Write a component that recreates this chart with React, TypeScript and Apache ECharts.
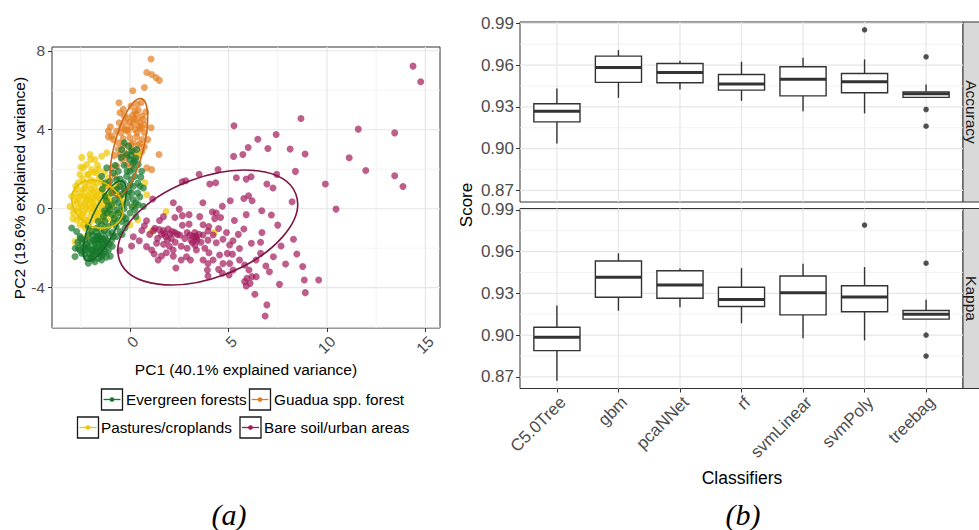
import React, { useEffect, useRef } from 'react';
import * as echarts from 'echarts';

// ---------- Panel (a): PCA scores ----------
const classNames = ['Evergreen forests', 'Guadua spp. forest', 'Pastures/croplands', 'Bare soil/urban areas'];
const classColors = ['#16782a', '#e27d1f', '#f0c800', '#a3195b'];
const ellipseColors = ['#17672a', '#cd6818', '#e4bf00', '#7e1445'];

const evergreenPts = [
  [-0.29, 3.34], [-0.08, 3.17], [0.08, 2.92], [0.34, 3.0], [-0.42, 3.0], [-0.17, 2.75], [0, 2.49], [0.22, 2.41],
  [0.42, 2.24], [0.59, 1.9], [0, 1.9], [-0.17, 1.64], [-0.34, 1.31], [0.05, 1.47], [0.25, 1.64], [0.17, 1.14],
  [0.51, 1.14], [0.68, 1.05], [0.39, 0.8], [0.08, 0.8], [-0.25, 0.88], [-0.51, 0.63], [-0.76, 0.46], [-0.93, 0.2],
  [-1.02, -0.05], [-0.68, -0.05], [-0.42, 0.12], [-0.17, 0.29], [0.17, 0.46], [0.42, 0.2], [0.68, 0.12], [0.25, -0.05],
  [0, -0.22], [-0.34, -0.39], [-0.59, -0.56], [-0.85, -0.73], [-1.1, -0.9], [-1.27, -0.64], [-1.44, -0.81], [-1.69, -0.98],
  [-1.95, -1.15], [-2.12, -1.32], [-2.28, -1.58], [-2.45, -1.75], [-2.62, -2.0], [-2.79, -2.42], [-2.45, -2.25], [-2.2, -2.51],
  [-1.95, -2.42], [-1.69, -2.25], [-1.44, -2.0], [-1.18, -1.75], [-0.93, -1.58], [-0.68, -1.41], [-0.51, -1.15], [-0.25, -0.98],
  [-0.17, -0.73], [-0.42, -0.64], [-2.12, -2.76], [-1.78, -2.68], [-1.44, -2.59], [-1.52, -2.25], [-1.86, -2.08], [-2.12, -1.92],
  [-1.78, -1.58], [-1.52, -1.49], [-1.27, -1.49], [-1.1, -1.24], [-1.44, -1.24], [-1.69, -1.41], [-2.03, -1.66], [-2.28, -2.08],
  [-2.54, -1.41], [-2.71, -1.15], [-2.96, -0.98], [-2.12, -0.9], [-1.61, -0.64], [-1.35, -0.39], [-1.18, -0.22], [-1.1, 0.12],
  [-1.27, 0.63], [-0.93, 0.8], [-0.68, 0.97], [-0.51, 1.14], [-0.68, 1.47], [-0.85, 1.81], [-0.59, 1.9], [-1.18, 2.07],
  [-1.02, 1.39], [-1.27, 1.31], [-1.44, 1.64], [-1.6, -1.7], [-1.8, -1.9], [-1.4, -1.8], [-1.7, -2.0], [-2.0, -2.1],
  [-1.5, -2.1], [-1.3, -1.9], [-1.9, -1.6], [-1.6, -1.4], [-1.2, -1.6], [-1.7, -1.2], [-2.2, -1.8], [-1.55, -1.55],
  [-1.85, -2.3], [-1.35, -2.3], [-2.3, -2.3], [-2.0, -2.5], [-1.6, -2.5], [-1.1, -2.1], [-0.9, -1.9], [-1.0, -2.4],
  [-2.5, -1.5], [-0.3, 1.0], [0.0, 1.2], [0.3, 0.3], [-0.1, 0.6], [0.5, 0.6], [-0.5, 1.5], [0.2, 2.0],
  [-0.3, 2.2], [0.4, 1.3], [-0.6, 0.3], [-0.9, -0.3], [-1.2, 0.4], [-0.7, -0.9], [-0.4, -1.3], [-0.9, -1.2],
  [-0.2, -0.5], [0.3, -0.4], [-1.3, -0.1], [-0.8, 0.9], [-1.4, 1.0], [-0.75, 2.2], [0.05, 2.7], [-0.45, 2.6],
  [0.3, 2.55], [-2.78, -2.0], [-1.75, -1.75], [-2.05, -2.25], [-1.45, -1.65], [-1.25, -2.15],
  [-1.75, -2.15], [-1.45, -2.4], [-1.9, -2.55], [-2.15, -2.0], [-1.35, -1.55], [-1.05, -1.8], [-1.65, -1.55], [-2.35, -1.95],
  [-2.55, -2.1], [-2.65, -1.7], [-1.2, -2.45], [-1.5, -1.95], [-1.9, -1.35], [-1.3, -1.1], [-0.85, -1.4], [-0.6, -0.2],
  [-0.3, 0.0], [0.1, 0.1], [-0.15, 1.9], [0.15, 2.3], [-0.05, 0.9], [0.55, 1.6], [-0.4, 0.75], [-0.8, -0.5],
];

const guaduaPts = [
  [1.07, 7.58], [0.85, 6.9], [1.1, 6.8], [1.32, 6.64], [1.49, 6.5], [0.73, 6.14], [0.14, 5.97], [-0.56, 5.37],
  [-0.34, 5.03], [0.05, 5.2], [0.34, 5.29], [0.56, 5.37], [0.25, 4.95], [0.42, 5.0], [-0.51, 4.86], [-0.12, 4.61],
  [0.14, 4.73], [0.34, 4.53], [0.51, 4.36], [0.68, 4.53], [0.17, 4.36], [0.05, 4.15], [-0.25, 4.36], [-0.42, 4.1],
  [-1.1, 3.93], [-0.93, 3.68], [-0.68, 3.93], [-0.46, 3.85], [-0.25, 4.02], [0.25, 4.02], [0.51, 4.05], [0.73, 3.85],
  [1.07, 4.1], [0.63, 3.51], [0.34, 3.64], [0.0, 3.59], [0.17, 3.34], [0.42, 3.2], [0.73, 3.14], [-1.1, 3.64],
  [-0.85, 3.51], [-0.59, 3.34], [-0.34, 3.2], [1.47, 2.75], [0.85, 2.07], [1.1, 1.98], [-0.42, 2.49], [-0.17, 2.24],
  [0.08, 2.15], [0.34, 2.66], [-0.68, 2.15], [-0.51, 2.75], [-0.25, 2.83], [-0.93, 2.07], [-0.76, 1.64], [-0.59, 1.14],
  [-1.1, 1.14], [0.0, 4.4], [0.3, 4.8], [0.6, 4.7], [-0.1, 3.9], [0.5, 3.3], [0.9, 3.5], [-0.6, 3.0],
  [-0.2, 2.6], [0.2, 2.9], [0.6, 2.9], [-0.8, 2.7], [0.1, 3.0], [-1.0, 4.15], [0.45, 4.2], [0.8, 4.9],
  [-0.3, 4.7], [0.2, 4.55], [-0.15, 4.0], [0.35, 3.85], [0.75, 4.25], [-0.35, 3.55], [0.05, 3.25], [-0.55, 4.35],
  [0.6, 4.1],
];

const pasturePts = [
  [-2.03, 2.75], [-1.78, 2.49], [-1.44, 2.66], [-2.2, 2.24], [-2.37, 2.07], [-1.95, 1.98], [-2.54, 1.73], [-2.12, 1.73],
  [-1.69, 1.81], [-2.62, 1.31], [-2.28, 1.31], [-1.86, 1.39], [-1.44, 1.31], [-1.1, 1.56], [-2.96, 0.63], [-2.79, 0.8],
  [-3.05, 0.12], [-2.88, -0.22], [-2.71, -0.56], [-2.54, -0.81], [-2.28, -0.98], [-1.95, -1.07], [-1.61, -0.98], [-1.27, -0.9],
  [-0.93, -0.64], [-0.76, -0.31], [-0.85, 0.12], [-1.02, 0.46], [-1.27, 0.71], [-1.61, 0.88], [-1.95, 0.97], [-2.37, 0.97],
  [-2.54, 0.63], [-2.71, 0.29], [-2.45, 0.12], [-2.2, 0.46], [-1.86, 0.54], [-1.52, 0.46], [-1.18, 0.29], [-1.44, 0.03],
  [-1.78, 0.03], [-2.12, -0.05], [-2.37, -0.22], [-2.03, -0.39], [-1.69, -0.39], [-1.35, -0.31], [-1.1, -0.22], [-2.12, 0.2],
  [-1.86, 0.2], [-2.32, -0.56], [-2.79, -1.66], [-2.2, -1.41], [-1.18, 2.83], [0.42, 2.75], [0.85, 0.71], [0.17, 0.12],
  [1.1, -1.15], [1.83, -0.14], [4.28, -1.2], [0, -0.81], [0.39, -0.56], [0.76, 1.31], [-2.0, 0.5], [-1.7, 0.7],
  [-2.3, 0.6], [-2.5, 0.3], [-1.6, 0.2], [-1.3, 0.5], [-1.9, -0.2], [-2.2, -0.6], [-1.5, -0.6], [-2.6, 0.0],
  [-1.8, 1.1], [-2.1, 1.2], [-1.4, 1.0], [-2.8, 0.4], [-1.2, -0.5], [-1.0, 0.8], [-2.4, -0.3], [-1.75, -0.15],
  [-2.05, 0.85], [-1.55, 1.55], [-2.4, 1.5], [-1.0, 1.1], [-0.6, 0.7], [-0.5, -0.2], [-0.7, 1.2], [-0.4, 0.5],
  [-2.45, 2.6], [-2.0, 2.5], [-1.65, 2.2], [-2.7, 1.0], [-1.9, 0.35], [-1.45, -0.15], [-2.25, 0.05], [-1.65, 0.55],
  [-2.15, 0.65], [-1.85, 0.8], [-2.45, 0.8], [-2.65, 0.55], [-2.25, 0.3], [-1.95, 0.05], [-1.65, -0.25], [-2.55, -0.45],
  [-2.85, 0.0], [-1.35, 0.2], [-1.15, 0.65], [-1.5, 0.85], [-2.3, 1.05], [-2.0, 1.45], [-1.7, 1.3], [-2.75, 1.15],
  [-2.6, -0.15], [-2.05, -0.7], [-1.8, -0.55], [-1.4, -0.45], [-1.1, 0.0], [-0.95, 0.35], [-2.9, -0.5], [-2.35, -0.8],
  [-1.25, 1.2], [-2.15, 1.75], [-1.85, 1.85], [-2.5, 2.1], [-1.6, 2.0], [-1.3, 1.85],
];

const barePts = [
  [14.37, 7.22], [14.76, 6.43], [8.68, 4.57], [5.28, 4.2], [11.59, 4.03], [13.44, 3.84], [7.42, 3.76], [6.49, 3.52],
  [7.0, 3.05], [6.0, 3.1], [8.13, 3.02], [5.73, 2.75], [5.26, 2.65], [8.89, 2.77], [11.13, 2.58], [8.4, 1.89],
  [11.97, 1.94], [4.47, 1.99], [3.51, 1.75], [7.45, 1.74], [5.4, 1.57], [5.9, 1.5], [6.15, 1.62], [13.44, 1.67],
  [2.83, 1.42], [2.65, 1.37], [4.05, 1.25], [4.35, 1.32], [6.95, 1.25], [7.26, 1.05], [9.92, 1.25], [13.86, 1.13],
  [6.02, 0.66], [5.78, 0.52], [6.2, 0.4], [5.09, 0.4], [8.23, 0.35], [4.69, 0.13], [1.15, 0.49], [10.46, -0.02],
  [6.69, -0.1], [2.5, -0.02], [4.18, -0.17], [4.38, -0.22], [7.18, -0.32], [2.28, -0.44], [2.66, -0.35], [3.54, -0.4],
  [4.6, -0.44], [3.0, -0.78], [7.5, -0.83], [0.84, -0.61], [0.73, -0.86], [2.66, -0.84], [3.71, -0.81], [5.78, -1.03],
  [1.26, -0.99], [1.48, -1.05], [1.69, -1.11], [1.94, -1.03], [2.28, -1.2], [2.02, -1.28], [1.82, -1.42], [2.53, -1.33],
  [2.78, -1.5], [3.04, -1.33], [3.29, -1.21], [3.37, -1.5], [3.17, -1.72], [3.96, -1.13], [3.71, -1.33], [3.96, -1.59],
  [4.22, -1.33], [4.38, -1.72], [4.72, -1.55], [5.23, -1.62], [5.06, -1.84], [4.94, -2.26], [5.56, -2.01], [6.16, -1.75],
  [6.63, -1.7], [7.67, -1.89], [8.3, -1.55], [0.17, -1.42], [0.47, -1.62], [0.08, -1.89], [0.84, -1.92], [1.1, -2.09],
  [1.35, -1.75], [1.23, -2.29], [1.43, -2.6], [1.6, -2.39], [1.85, -2.23], [2.19, -2.09], [2.33, -3.0], [2.87, -2.43],
  [3.07, -2.6], [3.37, -2.09], [3.71, -2.6], [4.01, -2.23], [3.96, -2.77], [4.22, -2.6], [4.55, -2.34], [4.72, -2.77],
  [5.06, -2.77], [5.23, -3.1], [5.56, -2.6], [5.82, -2.85], [6.04, -3.1], [5.94, -3.52], [6.19, -3.44], [6.41, -3.44],
  [6.1, -3.78], [5.82, -3.69], [5.9, -3.91], [3.93, -3.1], [3.96, -3.41], [4.5, -3.07], [4.69, -3.27], [5.03, -3.36],
  [6.63, -2.26], [7.08, -3.19], [7.28, -2.43], [7.59, -3.83], [8.77, -2.93], [8.85, -3.61], [8.9, -4.25], [9.58, -3.61],
  [8.47, -2.29], [6.34, -4.33], [6.95, -4.87], [6.86, -5.43], [-0.51, -2.12], [1.6, -1.3], [1.9, -1.6], [2.1, -1.5],
  [2.3, -1.7], [1.7, -1.8], [2.0, -1.9], [2.4, -1.3], [1.4, -1.5], [3.2, -1.4], [3.4, -1.6], [3.1, -1.6],
  [3.5, -1.3], [3.3, -1.85], [3.6, -1.7], [2.9, -1.2], [2.6, -1.9], [2.2, -2.4], [2.6, -2.6], [1.0, -1.3],
  [0.6, -1.1], [1.2, -1.1], [2.9, -2.0], [3.8, -2.0], [4.0, -0.9], [4.5, -1.0], [4.9, -1.2], [5.3, -0.6],
  [5.5, -1.3], [6.4, -2.6], [6.9, -2.9], [5.2, -2.3], [3.0, -0.3], [2.2, 0.3], [1.7, -0.4], [3.7, 0.3],
  [4.3, -0.5], [5.9, -0.3], [6.7, -1.2], [7.9, -2.8], [1.5, -0.6], [1.75, -1.25], [2.15, -1.15], [3.35, -1.4],
];

// confidence ellipses: [centre x, centre y, semi-major, semi-minor, angle in degrees]
const evergreenEllipse = [-1.28, -0.62, 2.2, 0.67, 65.7];
const guaduaEllipse = [-0.06, 3.11, 2.55, 0.74, 75.6];
const pastureEllipse = [-1.65, 0.23, 1.4, 1.11, -35.5];
const bareEllipse = [3.95, -0.95, 4.78, 2.53, 20.8];

const pc1Ticks = [0, 5, 10, 15];
const pc2Ticks = [-4, 0, 4, 8];
const pc1Minor = [-2.5, 2.5, 7.5, 12.5];
const pc2Minor = [-6, -2, 2, 6];

// ---------- Panel (b): classifier scores ----------
const classifiers = ['C5.0Tree', 'gbm', 'pcaNNet', 'rf', 'svmLinear', 'svmPoly', 'treebag'];
// [lower whisker, Q1, median, Q3, upper whisker]
const accuracyStats = [
  [0.9037, 0.9192, 0.9269, 0.9322, 0.9432],
  [0.9365, 0.9476, 0.9583, 0.9665, 0.9708],
  [0.9425, 0.9473, 0.9547, 0.9612, 0.9631],
  [0.9343, 0.942, 0.9465, 0.9533, 0.9624],
  [0.9269, 0.9379, 0.9499, 0.9588, 0.9653],
  [0.9253, 0.9401, 0.948, 0.954, 0.9641],
  [0.9368, 0.9368, 0.9394, 0.9408, 0.9461],
];
const kappaStats = [
  [0.8672, 0.8888, 0.8984, 0.9056, 0.9212],
  [0.9175, 0.9272, 0.9416, 0.9533, 0.9588],
  [0.92, 0.9265, 0.936, 0.9463, 0.9478],
  [0.9085, 0.9205, 0.9255, 0.9344, 0.9481],
  [0.8977, 0.9145, 0.9305, 0.9425, 0.9512],
  [0.8962, 0.9168, 0.9273, 0.9355, 0.9489],
  [0.9115, 0.9115, 0.915, 0.9177, 0.9254],
];
const accuracyOutliers = [[6, 0.9854], [7, 0.966], [7, 0.9281], [7, 0.9161]];
const kappaOutliers = [[6, 0.9791], [7, 0.9517], [7, 0.9], [7, 0.8849]];
const scoreTicks = [0.87, 0.9, 0.93, 0.96, 0.99];
const scoreMinor = [0.885, 0.915, 0.945, 0.975];
const facetNames = ['Accuracy', 'Kappa'];

const FONT = '"Liberation Sans", Arial, Helvetica, sans-serif';
const SERIF = '"Liberation Serif", "Times New Roman", serif';

function gridLineData(xMajor: number[], xMinor: number[], yMajor: number[], yMinor: number[]) {
  const d: number[][] = [];
  xMinor.forEach((v) => d.push([v, v, 0, 0]));
  yMinor.forEach((v) => d.push([v, v, 1, 0]));
  xMajor.forEach((v) => d.push([v, v, 0, 1]));
  yMajor.forEach((v) => d.push([v, v, 1, 1]));
  return d;
}

const gridLineRender = (params: any, api: any) => {
  const cs = params.coordSys;
  const v = api.value(0);
  const orient = api.value(2);
  const major = api.value(3);
  const p = api.coord([v, v]);
  const style = { stroke: major ? '#e6e6e6' : '#f0f0f0', lineWidth: major ? 1.2 : 0.8 };
  if (orient === 0) {
    return { type: 'line', silent: true, shape: { x1: p[0], y1: cs.y, x2: p[0], y2: cs.y + cs.height }, style };
  }
  return { type: 'line', silent: true, shape: { x1: cs.x, y1: p[1], x2: cs.x + cs.width, y2: p[1] }, style };
};

const ellipseRender = (color: string) => (params: any, api: any) => {
  const c = api.coord([api.value(0), api.value(1)]);
  const s = api.size([api.value(2), api.value(3)]);
  return {
    type: 'ellipse',
    x: c[0],
    y: c[1],
    rotation: (api.value(4) * Math.PI) / 180,
    shape: { cx: 0, cy: 0, rx: s[0], ry: s[1] },
    style: { fill: 'none', stroke: color, lineWidth: 1.6 },
    silent: true,
  };
};

const boxRender = (params: any, api: any) => {
  const x = api.value(0);
  const lo = api.coord([x, api.value(1)]);
  const q1 = api.coord([x, api.value(2)]);
  const md = api.coord([x, api.value(3)]);
  const q3 = api.coord([x, api.value(4)]);
  const hi = api.coord([x, api.value(5)]);
  const half = api.size([0.375, 0])[0];
  const cx = lo[0];
  const st = { stroke: '#333333', lineWidth: 1.4 };
  return {
    type: 'group',
    children: [
      { type: 'line', shape: { x1: cx, y1: hi[1], x2: cx, y2: q3[1] }, style: st },
      { type: 'line', shape: { x1: cx, y1: q1[1], x2: cx, y2: lo[1] }, style: st },
      { type: 'rect', shape: { x: cx - half, y: q3[1], width: 2 * half, height: q1[1] - q3[1] }, style: { fill: '#ffffff', stroke: '#333333', lineWidth: 1.4 } },
      { type: 'line', shape: { x1: cx - half, y1: md[1], x2: cx + half, y2: md[1] }, style: { stroke: '#333333', lineWidth: 3 } },
    ],
  };
};

function textEl(text: string, x: number, y: number, size: number, opts: any = {}) {
  return {
    type: 'text',
    x,
    y,
    rotation: opts.rotation || 0,
    silent: true,
    style: {
      text,
      font: `${opts.style || 'normal'} ${size}px ${opts.family || FONT}`,
      fill: opts.fill || '#000000',
      align: opts.align || 'center',
      verticalAlign: 'middle',
      textAlign: opts.align || 'center',
      textVerticalAlign: 'middle',
    },
  };
}

export default function App() {
  const ref = useRef<HTMLDivElement>(null);

  useEffect(() => {
    document.body.style.margin = '0';
    if (!ref.current) return;
    const chart = echarts.init(ref.current, undefined, { renderer: 'svg' });

    const scatterGrid = { left: 52, top: 47, width: 388, height: 281 };
    const facetGrids = [
      { left: 520, top: 22, width: 443, height: 180 },
      { left: 520, top: 208.5, width: 443, height: 180 },
    ];
    const gridCommon = { show: true, borderColor: '#333333', borderWidth: 1, backgroundColor: '#ffffff', containLabel: false };

    const leftLabel = { color: '#4d4d4d', fontSize: 15.5, fontFamily: FONT };
    const rightLabel = { color: '#4d4d4d', fontSize: 17, fontFamily: FONT };
    const tickStyle = { lineStyle: { color: '#333333', width: 1 }, length: 4, inside: false };
    const noLine = { show: false, onZero: false };

    const scoreMin = 0.8616;
    const scoreMax = 0.991;

    const legendItems = [
      { box: [101.5, 389], text: 126, idx: 0 },
      { box: [249.5, 389], text: 274, idx: 1 },
      { box: [77.5, 417], text: 101, idx: 2 },
      { box: [240, 417], text: 264, idx: 3 },
    ];
    const legendGraphics: any[] = [];
    legendItems.forEach((it) => {
      const [bx, by] = it.box;
      const color = classColors[it.idx];
      legendGraphics.push({ type: 'rect', shape: { x: bx, y: by, width: 21, height: 21 }, style: { fill: '#ffffff', stroke: '#1a1a1a', lineWidth: 1.3 }, silent: true });
      legendGraphics.push({ type: 'line', shape: { x1: bx + 2, y1: by + 10.5, x2: bx + 19, y2: by + 10.5 }, style: { stroke: color, lineWidth: 1.3 }, silent: true });
      legendGraphics.push({ type: 'circle', shape: { cx: bx + 10.5, cy: by + 10.5, r: 2.3 }, style: { fill: color }, silent: true });
      legendGraphics.push(textEl(classNames[it.idx], it.text, by + 10.5, 15.3, { align: 'left' }));
    });

    const stripGraphics: any[] = [];
    facetGrids.forEach((g, i) => {
      stripGraphics.push({ type: 'rect', shape: { x: g.left + g.width, y: g.top, width: 30, height: g.height }, style: { fill: '#d9d9d9', stroke: '#333333', lineWidth: 1 }, silent: true });
      stripGraphics.push(textEl(facetNames[i], 971, g.top + g.height / 2, 15.5, { rotation: -Math.PI / 2, fill: '#1a1a1a' }));
    });

    const option: any = {
      animation: false,
      backgroundColor: '#ffffff',
      grid: [
        { ...gridCommon, ...scatterGrid },
        { ...gridCommon, ...facetGrids[0] },
        { ...gridCommon, ...facetGrids[1] },
      ],
      xAxis: [
        {
          type: 'value', gridIndex: 0, min: -3.96, max: 15.74,
          splitLine: { show: false }, axisLine: noLine,
          axisTick: { show: true, customValues: pc1Ticks, ...tickStyle },
          axisLabel: { show: true, customValues: pc1Ticks, rotate: 45, align: 'right', verticalAlign: 'top', margin: 5, ...leftLabel },
        },
        {
          type: 'value', gridIndex: 1, min: 0.4, max: 7.6,
          splitLine: { show: false }, axisLine: noLine, axisTick: { show: false }, axisLabel: { show: false },
        },
        {
          type: 'value', gridIndex: 2, min: 0.4, max: 7.6,
          splitLine: { show: false }, axisLine: noLine,
          axisTick: { show: true, customValues: [1, 2, 3, 4, 5, 6, 7], ...tickStyle },
          axisLabel: {
            show: true, customValues: [1, 2, 3, 4, 5, 6, 7], rotate: 45, align: 'right', verticalAlign: 'top', margin: 5,
            formatter: (v: number) => classifiers[Math.round(v) - 1] || '', ...rightLabel,
          },
        },
      ],
      yAxis: [
        {
          type: 'value', gridIndex: 0, min: -6.04, max: 8.19,
          splitLine: { show: false }, axisLine: noLine,
          axisTick: { show: true, customValues: pc2Ticks, ...tickStyle },
          axisLabel: { show: true, customValues: pc2Ticks, margin: 7, ...leftLabel },
        },
        {
          type: 'value', gridIndex: 1, min: scoreMin, max: scoreMax,
          splitLine: { show: false }, axisLine: noLine,
          axisTick: { show: true, customValues: scoreTicks, ...tickStyle },
          axisLabel: { show: true, customValues: scoreTicks, margin: 6, formatter: (v: number) => v.toFixed(2), ...rightLabel },
        },
        {
          type: 'value', gridIndex: 2, min: scoreMin, max: scoreMax,
          splitLine: { show: false }, axisLine: noLine,
          axisTick: { show: true, customValues: scoreTicks, ...tickStyle },
          axisLabel: { show: true, customValues: scoreTicks, margin: 6, formatter: (v: number) => v.toFixed(2), ...rightLabel },
        },
      ],
      series: [
        // grid lines
        {
          type: 'custom', xAxisIndex: 0, yAxisIndex: 0, z: 1, silent: true, clip: false,
          encode: { x: 0, y: 1 },
          data: gridLineData(pc1Ticks, pc1Minor, pc2Ticks, pc2Minor),
          renderItem: gridLineRender,
        },
        {
          type: 'custom', xAxisIndex: 1, yAxisIndex: 1, z: 1, silent: true, clip: false,
          encode: { x: 0, y: 1 },
          data: gridLineData([1, 2, 3, 4, 5, 6, 7], [], scoreTicks, scoreMinor),
          renderItem: gridLineRender,
        },
        {
          type: 'custom', xAxisIndex: 2, yAxisIndex: 2, z: 1, silent: true, clip: false,
          encode: { x: 0, y: 1 },
          data: gridLineData([1, 2, 3, 4, 5, 6, 7], [], scoreTicks, scoreMinor),
          renderItem: gridLineRender,
        },
        // points
        ...[
          { pts: guaduaPts, i: 1 },
          { pts: pasturePts, i: 2 },
          { pts: evergreenPts, i: 0 },
          { pts: barePts, i: 3 },
        ].map((s) => ({
          type: 'scatter', name: classNames[s.i], xAxisIndex: 0, yAxisIndex: 0, z: 3,
          symbol: 'circle', symbolSize: 7, data: s.pts,
          itemStyle: { color: classColors[s.i], opacity: 0.7, borderWidth: 0 },
          emphasis: { disabled: true },
        })),
        // ellipses
        ...[
          { e: evergreenEllipse, i: 0 },
          { e: guaduaEllipse, i: 1 },
          { e: pastureEllipse, i: 2 },
          { e: bareEllipse, i: 3 },
        ].map((s) => ({
          type: 'custom', xAxisIndex: 0, yAxisIndex: 0, z: 4, silent: true,
          encode: { x: 0, y: 1 },
          data: [s.e],
          renderItem: ellipseRender(ellipseColors[s.i]),
        })),
        // boxes
        {
          type: 'custom', xAxisIndex: 1, yAxisIndex: 1, z: 3, silent: true,
          encode: { x: 0, y: [1, 2, 3, 4, 5] },
          data: accuracyStats.map((s, i) => [i + 1, ...s]),
          renderItem: boxRender,
        },
        {
          type: 'custom', xAxisIndex: 2, yAxisIndex: 2, z: 3, silent: true,
          encode: { x: 0, y: [1, 2, 3, 4, 5] },
          data: kappaStats.map((s, i) => [i + 1, ...s]),
          renderItem: boxRender,
        },
        {
          type: 'scatter', xAxisIndex: 1, yAxisIndex: 1, z: 4, symbolSize: 5.5, data: accuracyOutliers,
          itemStyle: { color: '#262626' }, emphasis: { disabled: true },
        },
        {
          type: 'scatter', xAxisIndex: 2, yAxisIndex: 2, z: 4, symbolSize: 5.5, data: kappaOutliers,
          itemStyle: { color: '#262626' }, emphasis: { disabled: true },
        },
      ],
      graphic: [
        textEl('PC1 (40.1% explained variance)', 246, 369, 15.5),
        textEl('PC2 (19.6% explained variance)', 19.5, 188, 15.5, { rotation: Math.PI / 2 }),
        textEl('Score', 466, 205, 17, { rotation: Math.PI / 2 }),
        textEl('Classifiers', 742, 478, 17.5),
        textEl('(a)', 229, 514, 30, { style: 'italic', family: SERIF }),
        textEl('(b)', 743, 514, 30, { style: 'italic', family: SERIF }),
        ...legendGraphics,
        ...stripGraphics,
      ],
    };

    chart.setOption(option);
    return () => chart.dispose();
  }, []);

  return <div ref={ref} style={{ width: 979, height: 530 }} />;
}
